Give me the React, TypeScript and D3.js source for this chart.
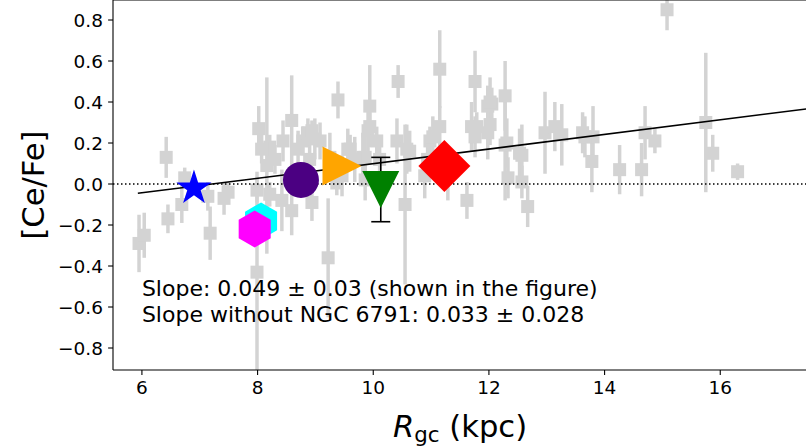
import React from 'react';
import * as d3 from 'd3';

// Open-cluster sample: galactocentric radius (kpc), [Ce/Fe] and its uncertainty
const rgc = [
  6.42, 5.95, 6.04, 6.45, 6.69, 6.74, 7.14, 7.18, 7.42, 7.49,
  7.99, 8.02, 8.16, 7.99, 8.21, 8.30, 8.59, 8.78, 8.87, 8.99,
  9.39, 8.70, 8.42, 8.59, 8.94, 9.22, 9.37, 9.56, 9.94, 9.91,
  9.86, 9.25, 9.60, 9.82, 9.86, 10.06, 9.94, 10.43, 11.15, 11.76,
  10.41, 10.58, 10.63, 10.98, 11.03, 10.94, 11.15, 11.70, 11.79, 11.76,
  11.98, 12.05, 12.02, 10.55, 11.62, 11.29, 12.28, 12.02, 12.31, 12.53,
  12.33, 12.57, 12.67, 12.28, 12.97, 13.14, 13.26, 13.62, 13.80, 13.78,
  13.66, 14.26, 14.70, 14.87, 14.64, 15.75, 15.87, 16.30, 15.08, 12.57,
  11.98, 8.94, 8.07, 8.44, 9.08, 9.68, 9.46, 8.90, 8.21, 10.11,
  10.89,
];
const ceFe = [
  0.13, -0.29, -0.25, -0.17, -0.10, 0.03, -0.06, -0.24, -0.07, -0.04,
  -0.03, 0.27, 0.09, -0.43, 0.18, 0.12, 0.31, 0.21, 0.25, 0.22,
  0.41, 0.17, -0.08, -0.13, -0.09, -0.36, 0.005, 0.17, 0.38, 0.26,
  0.13, 0.13, 0.17, 0.13, 0.02, 0.21, 0.28, 0.50, 0.56, 0.50,
  0.21, 0.17, 0.16, 0.21, 0.23, 0.12, 0.28, 0.28, 0.28, 0.23,
  0.38, 0.39, 0.29, -0.10, -0.08, 0.04, 0.43, 0.40, 0.20, 0.15,
  0.03, 0.01, -0.11, 0.19, 0.25, 0.28, 0.24, 0.25, 0.23, 0.11,
  0.23, 0.07, 0.25, 0.21, 0.07, 0.30, 0.15, 0.06, 0.85, 0.14,
  0.25, 0.26, 0.17, 0.21, 0.21, 0.12, 0.04, 0.12, -0.05, 0.12,
  0.04,
];
const ceFeErr = [
  0.10, 0.14, 0.11, 0.07, 0.09, 0.05, 0.07, 0.13, 0.08, 0.05,
  0.06, 0.11, 0.43, 0.49, 0.06, 0.07, 0.22, 0.07, 0.07, 0.10,
  0.09, 0.09, 0.15, 0.12, 0.09, 0.29, 0.06, 0.10, 0.20, 0.10,
  0.10, 0.12, 0.07, 0.12, 0.10, 0.07, 0.07, 0.08, 0.19, 0.15,
  0.11, 0.12, 0.10, 0.07, 0.10, 0.10, 0.10, 0.12, 0.07, 0.10,
  0.10, 0.08, 0.10, 0.39, 0.09, 0.12, 0.17, 0.12, 0.12, 0.12,
  0.10, 0.08, 0.10, 0.27, 0.20, 0.12, 0.15, 0.10, 0.15, 0.15,
  0.10, 0.12, 0.13, 0.06, 0.13, 0.34, 0.09, 0.04, 0.10, 0.15,
  0.13, 0.05, 0.07, 0.10, 0.09, 0.11, 0.10, 0.10, 0.06, 0.10,
  0.11,
];

// Highlighted clusters
const clusterRgc = [6.9, 8.06, 7.95, 8.75, 9.46, 10.13, 11.23];
const clusterCeFe = [-0.02, -0.18, -0.22, 0.02, 0.088, -0.027, 0.088];
const clusterErr = [0, 0, 0, 0, 0, 0.157, 0];
const clusterMarker = ['star', 'hexagon', 'hexagon', 'circle', 'triangle-right', 'triangle-down', 'diamond'];
const clusterColor = ['#0000ff', '#00ffff', '#ff00ff', '#4b0082', '#ffa500', '#008000', '#ff0000'];

// Linear gradient fit
const fitSlope = 0.0356;
const fitIntercept = -0.2566;
const fitRange = [5.93, 17.6];

const xTicks = [6, 8, 10, 12, 14, 16];
const yTicks = [-0.8, -0.6, -0.4, -0.2, 0.0, 0.2, 0.4, 0.6, 0.8];
const slopeNotes = [
  'Slope: 0.049 ± 0.03 (shown in the figure)',
  'Slope without NGC 6791: 0.033 ± 0.028',
];

const W = 806;
const H = 448;
const left = 113;
const right = 807;
const top = 0;
const bottom = 370;
const font = 'DejaVu Sans, sans-serif';
const tickFont = 18.5;
const titleFont = 30.6;

const fmtY = (v: number) => {
  const s = Math.abs(v).toFixed(1);
  return v < -1e-9 ? '\u2212' + s : s;
};

function markerPath(kind: string): string {
  if (kind === 'star') {
    const R = 18.5;
    const r = R * 0.381966;
    const pts: string[] = [];
    for (let k = 0; k < 10; k++) {
      const a = -Math.PI / 2 + (k * Math.PI) / 5;
      const rr = k % 2 === 0 ? R : r;
      pts.push(`${(rr * Math.cos(a)).toFixed(2)},${(rr * Math.sin(a)).toFixed(2)}`);
    }
    return 'M' + pts.join('L') + 'Z';
  }
  if (kind === 'hexagon') {
    const R = 18.5;
    const pts: string[] = [];
    for (let k = 0; k < 6; k++) {
      const a = -Math.PI / 2 + (k * Math.PI) / 3;
      pts.push(`${(R * Math.cos(a)).toFixed(2)},${(R * Math.sin(a)).toFixed(2)}`);
    }
    return 'M' + pts.join('L') + 'Z';
  }
  if (kind === 'circle') {
    const R = 18;
    return `M${-R},0A${R},${R} 0 1,0 ${R},0A${R},${R} 0 1,0 ${-R},0Z`;
  }
  if (kind === 'triangle-right') {
    const R = 19.5;
    return `M${R},0L${-R},${-R}L${-R},${R}Z`;
  }
  if (kind === 'triangle-down') {
    const R = 18.5;
    return `M0,${R}L${-R},${-R}L${R},${-R}Z`;
  }
  // diamond
  const D = 26;
  return `M0,${-D}L${D},0L0,${D}L${-D},0Z`;
}

export default function App() {
  const x = d3.scaleLinear().domain([5.5, 17.5]).range([left, right]);
  const y = d3.scaleLinear().domain([-0.9073, 0.8976]).range([bottom, top]);

  const fitLine = d3
    .line<number>()
    .x((d) => x(d))
    .y((d) => y(fitIntercept + fitSlope * d))(fitRange);

  const sq = 13;

  return (
    <svg
      width={W}
      height={H}
      style={{ position: 'absolute', left: 0, top: 0, background: '#fff' }}
      fontFamily={font}
    >
      <defs>
        <clipPath id="plotArea">
          <rect x={left} y={top} width={right - left} height={bottom - top} />
        </clipPath>
      </defs>
      <rect x={0} y={0} width={W} height={H} fill="#fff" />

      <g clipPath="url(#plotArea)">
        {/* sample error bars */}
        {rgc.map((r, i) => (
          <line
            key={'e' + i}
            x1={x(r)}
            x2={x(r)}
            y1={y(ceFe[i] - ceFeErr[i])}
            y2={y(ceFe[i] + ceFeErr[i])}
            stroke="#d3d3d3"
            strokeWidth={3.5}
          />
        ))}
        {/* sample markers */}
        {rgc.map((r, i) => (
          <rect
            key={'s' + i}
            x={x(r) - sq / 2}
            y={y(ceFe[i]) - sq / 2}
            width={sq}
            height={sq}
            fill="#d3d3d3"
          />
        ))}

        {/* solar reference */}
        <line
          x1={left}
          x2={right}
          y1={y(0)}
          y2={y(0)}
          stroke="#000"
          strokeWidth={1.5}
          strokeDasharray="1.5,2.5"
        />

        {/* gradient fit */}
        <path d={fitLine ?? ''} fill="none" stroke="#000" strokeWidth={1.5} />

        {/* highlighted clusters */}
        {clusterRgc.map((r, i) =>
          clusterErr[i] > 0 ? (
            <g key={'ce' + i} stroke="#000" strokeWidth={1.6}>
              <line x1={x(r)} x2={x(r)} y1={y(clusterCeFe[i] - clusterErr[i])} y2={y(clusterCeFe[i] + clusterErr[i])} />
              <line x1={x(r) - 9.5} x2={x(r) + 9.5} y1={y(clusterCeFe[i] - clusterErr[i])} y2={y(clusterCeFe[i] - clusterErr[i])} />
              <line x1={x(r) - 9.5} x2={x(r) + 9.5} y1={y(clusterCeFe[i] + clusterErr[i])} y2={y(clusterCeFe[i] + clusterErr[i])} />
            </g>
          ) : null
        )}
        {clusterRgc.map((r, i) => (
          <path
            key={'c' + i}
            d={markerPath(clusterMarker[i])}
            transform={`translate(${x(r)},${y(clusterCeFe[i])})`}
            fill={clusterColor[i]}
          />
        ))}
      </g>

      {/* annotation */}
      {slopeNotes.map((t, i) => (
        <text key={'n' + i} x={x(6)} y={296 + i * 26} fontSize={22} fill="#000">
          {t}
        </text>
      ))}

      {/* spines */}
      <g stroke="#000" strokeWidth={1.1} fill="none">
        <line x1={left} x2={left} y1={top} y2={bottom} />
        <line x1={left} x2={right} y1={bottom} y2={bottom} />
        <line x1={left} x2={right} y1={top} y2={top} />
        <line x1={right} x2={right} y1={top} y2={bottom} />
      </g>

      {/* x axis */}
      {xTicks.map((t) => (
        <g key={'xt' + t}>
          <line x1={x(t)} x2={x(t)} y1={bottom} y2={bottom + 4.9} stroke="#000" strokeWidth={1.1} />
          <text x={x(t)} y={394} textAnchor="middle" fontSize={tickFont} fill="#000">
            {t}
          </text>
        </g>
      ))}
      {/* y axis */}
      {yTicks.map((t) => (
        <g key={'yt' + t}>
          <line x1={left - 4.9} x2={left} y1={y(t)} y2={y(t)} stroke="#000" strokeWidth={1.1} />
          <text x={103} y={y(t) + 6.7} textAnchor="end" fontSize={tickFont} fill="#000">
            {fmtY(t)}
          </text>
        </g>
      ))}

      {/* axis titles */}
      <text x={(left + right) / 2} y={437} textAnchor="middle" fontSize={titleFont} fill="#000">
        <tspan fontStyle="italic">R</tspan>
        <tspan fontSize={titleFont * 0.7} dy={4.5}>gc</tspan>
        <tspan dy={-4.5}> (kpc)</tspan>
      </text>
      <text
        transform={`translate(44,${(top + bottom) / 2}) rotate(-90)`}
        textAnchor="middle"
        fontSize={titleFont}
        fill="#000"
      >
        [Ce/Fe]
      </text>
    </svg>
  );
}
